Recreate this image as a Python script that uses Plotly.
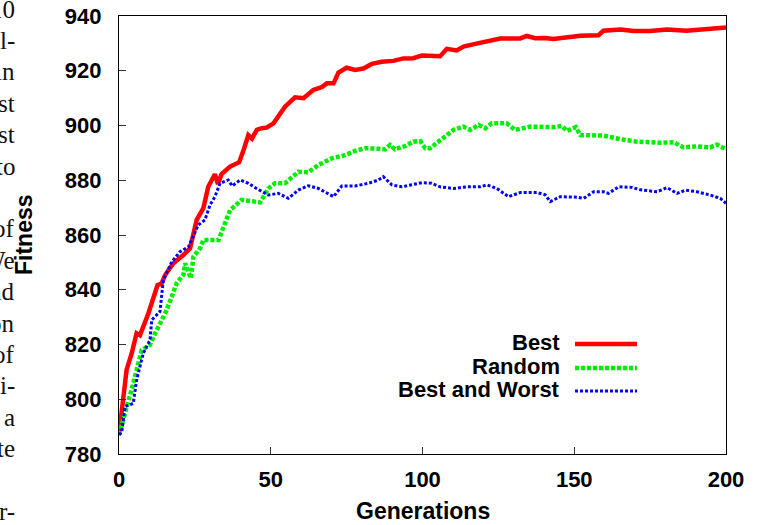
import plotly.graph_objects as go

# Fitness per generation for three selection strategies
gen_best = [0, 1.4, 2.5, 4.2, 5.8, 6.9, 8.6, 9.7, 12.7, 14, 15.2, 17.9, 21.2, 23.4, 25.6,
            27.8, 29.4, 31.6, 32.6, 33.8, 36.6, 39.6, 41.2, 42.6, 43.8, 45.4, 47, 48.6,
            50.9, 54.7, 58, 60.8, 64, 66.8, 68.5, 70.7, 72.3, 75, 77.8, 80.5, 83.3, 86.6,
            90.4, 93.7, 97, 99.8, 105.8, 108, 111.3, 113.5, 117.4, 122.3, 125.6, 132.2,
            134.4, 137.1, 140.4, 143.1, 146.4, 152, 158, 159.6, 165.2, 169.6, 175, 180.5,
            187, 193.7, 200]
fit_best = [787, 799.7, 810.7, 816.8, 824.1, 823.4, 827.7, 831.4, 841.7, 842.2, 845.4,
            849.7, 852.7, 855.1, 865.5, 869.8, 877.6, 882.2, 878.6, 882.3, 885, 886.6,
            891.5, 896.5, 895.2, 898.4, 899, 899.2, 900.8, 906.9, 910.3, 910, 913, 914,
            915.4, 915.4, 919.3, 921.1, 920.3, 920.8, 922.5, 923.3, 923.6, 924.5, 924.6,
            925.6, 925.3, 928, 927.4, 928.8, 929.8, 931, 931.8, 931.8, 932.7, 931.9, 932,
            931.6, 932, 932.8, 933, 934.6, 935.1, 934.5, 934.5, 935.1, 934.6, 935.2, 935.8]

gen_random = [0, 3.1, 4.7, 7.5, 10.2, 11.9, 13.5, 15.2, 17.4, 19, 21.2, 21.8, 23.7, 24.5,
              26.7, 27.8, 32.8, 34.4, 36.6, 40.4, 43.8, 46.5, 49.2, 51.4, 54.7, 59.1, 62.4,
              65.7, 70.1, 74.5, 77.8, 81.1, 85.5, 87.7, 89.3, 90.9, 94.3, 97, 99.3, 100.9,
              102.5, 105.8, 110.2, 113.5, 115.7, 118.5, 120.7, 122.8, 127.8, 130.5, 135.5,
              143.2, 145.9, 147.6, 150.5, 152, 159.7, 165.2, 170.7, 178.4, 182.8, 186,
              190.4, 194.8, 197, 200]
fit_random = [787, 798.5, 805.8, 818, 819.8, 824.1, 827.7, 831.4, 837.5, 842.4, 845.4,
              849.7, 844.2, 852.1, 855.1, 858.2, 858.2, 863, 869.1, 872.8, 872.5, 871.9,
              877, 878.9, 878.9, 883.1, 882.9, 885.6, 888, 889.2, 890.7, 891.7, 891.5,
              891.3, 892.9, 891.3, 892.5, 894.1, 894.3, 891.7, 891.7, 894.7, 898.4, 899.6,
              898.4, 900.2, 899, 900.8, 900.8, 898.4, 899.6, 899.4, 899.8, 898, 899.4,
              896.5, 896.3, 895, 894.1, 893.7, 893.9, 892, 892.4, 892, 893, 891.3]

gen_bw = [0, 0.9, 2, 4.7, 5.8, 8, 10.2, 10.8, 13.5, 14.6, 17.4, 20.1, 22.9, 24.5, 26.1,
          28.3, 30, 31.6, 33.3, 36, 37.3, 39.9, 42.6, 45.3, 49.2, 52.5, 55.8, 59.1, 62.4,
          65.7, 69, 70.7, 73.4, 77.8, 82.2, 85.5, 87.1, 89.9, 93.2, 96.5, 99.8, 103, 105.8,
          110.2, 114.6, 119, 121.2, 124.5, 128.3, 132.2, 137.7, 140.4, 142.1, 145.4, 150.9,
          153.1, 156.4, 159.7, 161.3, 164.6, 169, 171.8, 177.3, 180.6, 183.9, 186.7, 190.4,
          194.8, 198.1, 200]
fit_bw = [787, 788, 797.3, 798.5, 807, 816.8, 821.6, 829, 832, 843.5, 850.2, 853.9, 855.7,
          860, 863.6, 865.5, 871, 874, 878.9, 880.1, 877.9, 880.1, 878.9, 877, 874.6, 875.2,
          873.4, 876.4, 878, 877, 875.2, 874, 877.9, 877.9, 878.9, 880.1, 881.3, 878.3,
          877.6, 878.3, 879.1, 878.9, 877.6, 877, 877.6, 877.6, 878.3, 877, 874, 875.5,
          875.5, 874.7, 872.2, 874, 873.8, 873.4, 875.8, 875.8, 875.2, 877.6, 877.4, 876.5,
          875.8, 877.3, 875.2, 876.4, 875.8, 874.6, 873.4, 871.6]

series_names = ["Best", "Random", "Best and Worst"]
series_colors = ["#ff0000", "#00ee00", "#0000ff"]
series_widths = [4.5, 4.5, 3]
series_dash = ["solid", "4px,2px", "3px,2px"]

x_ticks = [0, 50, 100, 150, 200]
y_ticks = [780, 800, 820, 840, 860, 880, 900, 920, 940]

# Fragments of the neighbouring column of body text, clipped at the page edge
side_text = ["10", "l-", "in", "st", "st", "to", "", "of", "We", "nd", "on", "of",
             "i-", "a", "te", "", "r-"]

W, H = 765, 525
L, R, T, B = 119, 39, 16, 71
PW, PH = W - L - R, H - T - B


def px_x(p):
    return (p - L) / PW


def px_y(p):
    return (H - B - p) / PH


fig = go.Figure()
for xs, ys, name, col, wd, dsh in zip([gen_best, gen_random, gen_bw],
                                       [fit_best, fit_random, fit_bw],
                                       series_names, series_colors, series_widths, series_dash):
    fig.add_trace(go.Scatter(x=xs, y=ys, mode="lines", name=name, showlegend=False,
                             line=dict(color=col, width=wd, dash=dsh)))

bold = "Liberation Sans"
annotations = []
shapes = []

# Legend: right-aligned labels with line samples to their right
legend_rows = [344, 368, 391]
for name, col, wd, dsh, yy in zip(series_names, series_colors, series_widths, series_dash, legend_rows):
    annotations.append(dict(x=px_x(562), y=px_y(yy - 2), xref="paper", yref="paper",
                            text="<b>" + name + "</b>", showarrow=False,
                            xanchor="right", yanchor="middle",
                            font=dict(family=bold, size=22, color="black")))
    shapes.append(dict(type="line", xref="paper", yref="paper",
                       x0=px_x(575), x1=px_x(637), y0=px_y(yy), y1=px_y(yy),
                       line=dict(color=col, width=wd, dash=dsh)))

# Axis titles
annotations.append(dict(x=px_x(423), y=px_y(511), xref="paper", yref="paper",
                        text="<b>Generations</b>", showarrow=False,
                        xanchor="center", yanchor="middle", borderpad=0,
                        font=dict(family=bold, size=23, color="black")))
annotations.append(dict(x=px_x(24), y=px_y(235), xref="paper", yref="paper",
                        text="<b>Fitness</b>", showarrow=False, textangle=-90,
                        xanchor="center", yanchor="middle",
                        font=dict(family=bold, size=23, color="black")))

for i, frag in enumerate(side_text):
    if not frag:
        continue
    base = 17 + i * 31.4
    annotations.append(dict(x=px_x(17), y=px_y(base - 8), xref="paper", yref="paper",
                            text=frag, showarrow=False, xanchor="right", yanchor="middle",
                            font=dict(family="Liberation Serif", size=25, color="#111111")))

axis_common = dict(showgrid=False, zeroline=False, showline=True, linecolor="black",
                   linewidth=1.3, mirror=True, ticks="inside", ticklen=7, tickwidth=1.3,
                   tickcolor="#333333", automargin=False,
                   tickfont=dict(family=bold, size=22, color="black"))

fig.update_xaxes(range=[0, 200], tickvals=x_ticks, ticktext=["<b>%d</b>" % v for v in x_ticks],
                 ticklabelstandoff=5, **axis_common)
fig.update_yaxes(range=[780, 940], tickvals=y_ticks, ticktext=["<b>%d</b>" % v for v in y_ticks],
                 ticklabelstandoff=12, **axis_common)

fig.update_layout(width=W, height=H, margin=dict(l=L, r=R, t=T, b=B),
                  plot_bgcolor="white", paper_bgcolor="white",
                  annotations=annotations, shapes=shapes)

fig.write_html("out.html")
